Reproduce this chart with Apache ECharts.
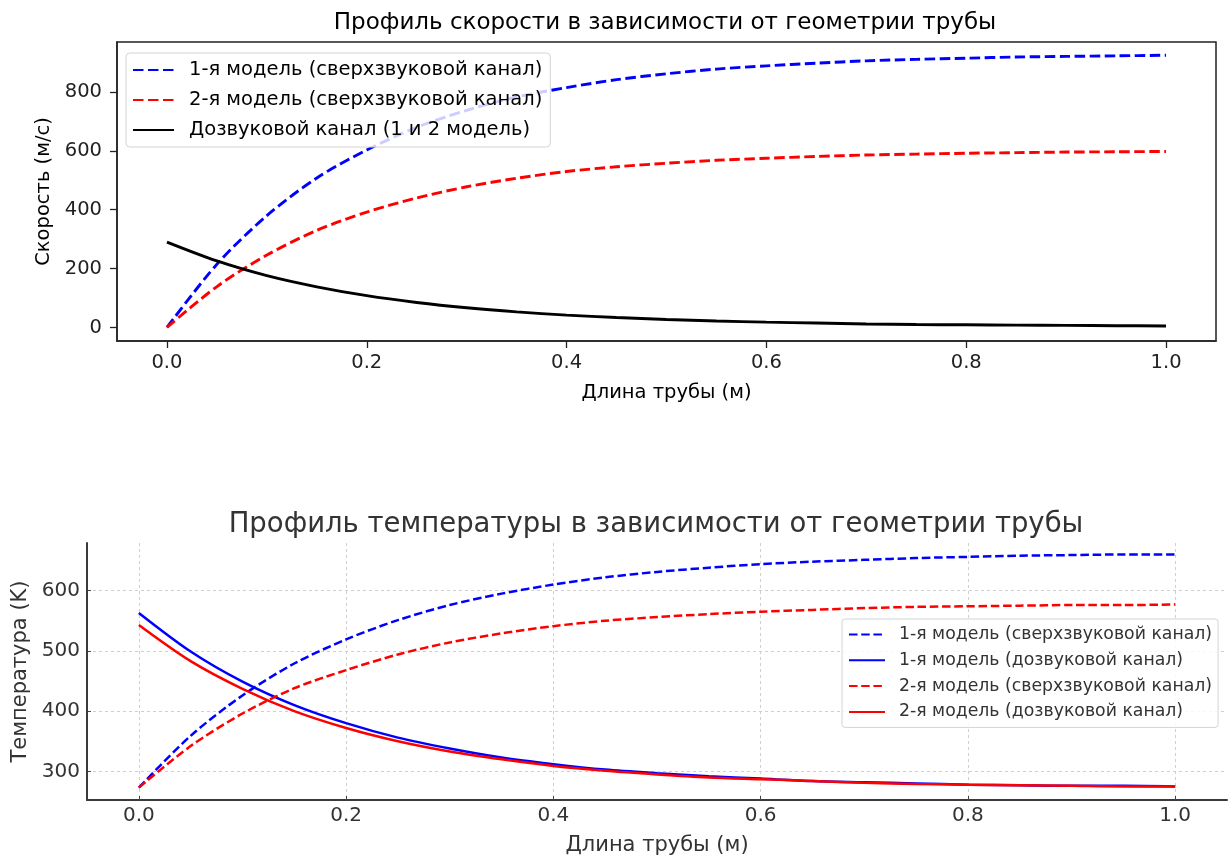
<!DOCTYPE html>
<html>
<head>
<meta charset="utf-8">
<script src="https://cdn.jsdelivr.net/npm/echarts@6/dist/echarts.min.js"></script>
<style>
    html, body { margin: 0; padding: 0; background: #fff; }
    #top { position: absolute; left: 0; top: 0; width: 1232px; height: 420px; }
    #bottom { position: absolute; left: 0; top: 420px; width: 1232px; height: 441px; }
</style>
</head>
<body>
<div id="top"></div>
<div id="bottom"></div>
<script>
// длина трубы, м
const xs = [0, 0.05, 0.1, 0.15, 0.2, 0.25, 0.3, 0.35, 0.4, 0.45, 0.5,
    0.55, 0.6, 0.65, 0.7, 0.75, 0.8, 0.85, 0.9, 0.95, 1.0];

// скорость, м/с
const velSuper1 = [0, 215, 380, 508, 603, 680, 738, 783, 815, 842, 862,
    878, 889, 898, 906, 911, 915, 919, 921, 923, 925];
const velSuper2 = [0, 139, 246, 330, 392, 440, 478, 507, 530, 546, 558,
    568, 575, 581, 586, 589, 592, 594, 596, 597, 598];
const velSub = [290, 226, 176, 138, 108, 85, 67, 53, 42, 34, 27,
    22, 18, 15, 12, 10, 9, 8, 7, 6, 5];

// температура, K
const tempSuper1 = [273, 359, 426, 479, 519, 551, 576, 595, 610, 622, 631,
    638, 644, 648, 651, 654, 656, 658, 659, 660, 660];
const tempSub1 = [563, 499, 449, 410, 380, 356, 338, 323, 312, 303, 297,
    292, 288, 284, 282, 280, 278, 277, 276, 276, 275];
const tempSuper2 = [273, 342, 396, 438, 468, 494, 514, 529, 541, 550, 556,
    561, 565, 568, 571, 573, 574, 575, 576, 576, 577];
const tempSub2 = [543, 483, 437, 400, 372, 350, 333, 320, 309, 301, 295,
    290, 287, 284, 281, 279, 278, 277, 276, 275, 275];

const colorBlue = '#0000ff';
const colorRed = '#ff0000';
const font = 'DejaVu Sans';

function pairs(ys) {
    return xs.map(function (x, i) { return [x, ys[i]]; });
}

function lineSeries(name, ys, color, dashed, width, dash) {
    return {
        name: name,
        type: 'line',
        data: pairs(ys),
        symbol: 'none',
        smooth: 0.3,
        lineStyle: {color: color, width: width, type: dashed ? dash : 'solid'},
        itemStyle: {color: color},
        emphasis: {disabled: true}
    };
}

// верхний график — скорость
const topDash = [10.5, 4.5];
const topChart = echarts.init(document.getElementById('top'));
topChart.setOption({
    animation: false,
    title: {
        text: 'Профиль скорости в зависимости от геометрии трубы',
        left: 665, textAlign: 'center', top: 12, padding: 0,
        textStyle: {fontFamily: font, fontSize: 23, fontWeight: 'normal', color: '#000'}
    },
    grid: {
        left: 117, right: 16, top: 42, bottom: 79,
        show: true, borderColor: '#222', borderWidth: 1.5
    },
    legend: {
        orient: 'vertical', left: 126, top: 53,
        padding: [7, 8, 7, 6],
        itemWidth: 41, itemHeight: 14, itemGap: 10,
        itemStyle: {opacity: 0},
        backgroundColor: 'rgba(255,255,255,0.8)',
        borderColor: '#d4d4d4', borderWidth: 1, borderRadius: 4,
        textStyle: {fontFamily: font, fontSize: 19.5, color: '#000', padding: [0, 0, 0, 10]},
        data: ['1-я модель (сверхзвуковой канал)', '2-я модель (сверхзвуковой канал)',
            'Дозвуковой канал (1 и 2 модель)']
    },
    xAxis: {
        type: 'value', min: -0.05, max: 1.05, splitNumber: 5,
        name: 'Длина трубы (м)', nameLocation: 'middle', nameGap: 42,
        nameTextStyle: {fontFamily: font, fontSize: 19.5, color: '#000'},
        axisLine: {show: true, onZero: false, lineStyle: {color: '#222', width: 1.5}},
        axisTick: {show: true, length: 7, lineStyle: {color: '#222', width: 1.3}},
        axisLabel: {
            fontFamily: font, fontSize: 19.5, color: '#222', margin: 12,
            showMinLabel: false, showMaxLabel: false,
            formatter: function (v) { return v.toFixed(1); }
        },
        splitLine: {show: false}
    },
    yAxis: {
        type: 'value', min: -46, max: 970, splitNumber: 5,
        name: 'Скорость (м/с)', nameLocation: 'middle', nameGap: 60,
        nameTextStyle: {fontFamily: font, fontSize: 19.5, color: '#000'},
        axisLine: {show: true, onZero: false, lineStyle: {color: '#222', width: 1.5}},
        axisTick: {show: true, length: 7, lineStyle: {color: '#222', width: 1.3}},
        axisLabel: {
            fontFamily: font, fontSize: 19.5, color: '#222', margin: 15,
            showMinLabel: false, showMaxLabel: false
        },
        splitLine: {show: false}
    },
    series: [
        lineSeries('1-я модель (сверхзвуковой канал)', velSuper1, colorBlue, true, 2.9, topDash),
        lineSeries('2-я модель (сверхзвуковой канал)', velSuper2, colorRed, true, 2.9, topDash),
        lineSeries('Дозвуковой канал (1 и 2 модель)', velSub, '#000', false, 2.9, topDash)
    ]
});

// нижний график — температура
const bottomDash = [8.5, 3.7];
const bottomChart = echarts.init(document.getElementById('bottom'));
bottomChart.setOption({
    animation: false,
    title: {
        text: 'Профиль температуры в зависимости от геометрии трубы',
        left: 656, textAlign: 'center', top: 91, padding: 0,
        textStyle: {fontFamily: font, fontSize: 27.5, fontWeight: 'normal', color: '#333'}
    },
    grid: {left: 87, right: 5, top: 123, bottom: 57},
    legend: {
        orient: 'vertical', left: 842, top: 199,
        padding: [7, 6, 7, 6],
        itemWidth: 36, itemHeight: 12, itemGap: 8.8,
        itemStyle: {opacity: 0},
        backgroundColor: 'rgba(255,255,255,0.85)',
        borderColor: '#d4d4d4', borderWidth: 1, borderRadius: 3,
        textStyle: {fontFamily: font, fontSize: 17.3, color: '#333', padding: [0, 0, 0, 9]},
        data: ['1-я модель (сверхзвуковой канал)', '1-я модель (дозвуковой канал)',
            '2-я модель (сверхзвуковой канал)', '2-я модель (дозвуковой канал)']
    },
    xAxis: {
        type: 'value', min: -0.05, max: 1.05, splitNumber: 5,
        name: 'Длина трубы (м)', nameLocation: 'middle', nameGap: 35,
        nameTextStyle: {fontFamily: font, fontSize: 21, color: '#333'},
        axisLine: {show: true, onZero: false, lineStyle: {color: '#3a3a3a', width: 2}},
        axisTick: {show: true, inside: true, length: 4, lineStyle: {color: '#444'}},
        axisLabel: {
            fontFamily: font, fontSize: 20, color: '#333', margin: 6,
            showMinLabel: false, showMaxLabel: false,
            formatter: function (v) { return v.toFixed(1); }
        },
        splitLine: {
            show: true, showMinLine: false, showMaxLine: false,
            lineStyle: {color: '#cfcfcf', type: [3, 3], width: 1}
        }
    },
    yAxis: {
        type: 'value', min: 252.5, max: 679, splitNumber: 5,
        name: 'Температура (K)', nameLocation: 'middle', nameGap: 52,
        nameTextStyle: {fontFamily: font, fontSize: 21, color: '#333'},
        axisLine: {show: true, onZero: false, lineStyle: {color: '#3a3a3a', width: 2}},
        axisTick: {show: true, inside: true, length: 4, lineStyle: {color: '#444'}},
        axisLabel: {
            fontFamily: font, fontSize: 20, color: '#333', margin: 7,
            showMinLabel: false, showMaxLabel: false
        },
        splitLine: {
            show: true, showMinLine: false, showMaxLine: false,
            lineStyle: {color: '#cfcfcf', type: [3, 3], width: 1}
        }
    },
    series: [
        lineSeries('1-я модель (сверхзвуковой канал)', tempSuper1, colorBlue, true, 2.5, bottomDash),
        lineSeries('1-я модель (дозвуковой канал)', tempSub1, colorBlue, false, 2.5, bottomDash),
        lineSeries('2-я модель (сверхзвуковой канал)', tempSuper2, colorRed, true, 2.5, bottomDash),
        lineSeries('2-я модель (дозвуковой канал)', tempSub2, colorRed, false, 2.5, bottomDash)
    ]
});
</script>
</body>
</html>
